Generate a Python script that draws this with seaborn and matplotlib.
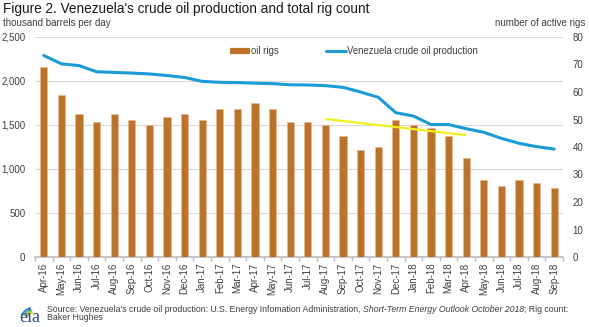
import numpy as np
import pandas as pd
import matplotlib
matplotlib.use("Agg")
import matplotlib.pyplot as plt
import seaborn as sns
from matplotlib.lines import Line2D
from matplotlib.patches import Arc
from matplotlib.ticker import FuncFormatter, FixedLocator, FixedFormatter

months = ["Apr-16", "May-16", "Jun-16", "Jul-16", "Aug-16", "Sep-16", "Oct-16", "Nov-16", "Dec-16",
          "Jan-17", "Feb-17", "Mar-17", "Apr-17", "May-17", "Jun-17", "Jul-17", "Aug-17", "Sep-17",
          "Oct-17", "Nov-17", "Dec-17", "Jan-18", "Feb-18", "Mar-18", "Apr-18", "May-18", "Jun-18",
          "Jul-18", "Aug-18", "Sep-18"]
oil_rigs = [69, 59, 52, 49, 52, 50, 48, 51, 52,
            50, 54, 54, 56, 54, 49, 49, 48, 44, 39, 40, 50,
            48, 47, 44, 36, 28, 26, 28, 27, 25]
production = [2290, 2195, 2175, 2105, 2098, 2090, 2080, 2062, 2040,
              1996, 1985, 1982, 1975, 1970, 1957, 1955, 1947, 1928, 1875, 1815, 1640,
              1602, 1505, 1505, 1458, 1417, 1348, 1292, 1254, 1227]
trend_months = ["Aug-17", "Apr-18"]
trend_rigs = [50.2, 44.3]

left_ticks = [0, 500, 1000, 1500, 2000, 2500]
right_ticks = [0, 10, 20, 30, 40, 50, 60, 70, 80]

BAR = "#BD722B"
LINE = "#1B9BD7"
YEL = "#F4F01E"
TXT = "#404040"
FONT = "Liberation Sans"

sns.set_theme(style="white")
plt.rcParams["font.family"] = [FONT, "DejaVu Sans"]

df = pd.DataFrame({"month": months, "rigs": oil_rigs, "prod": production})
df["pos"] = np.arange(len(df))
tpos = [months.index(m) for m in trend_months]

W, H = 589, 327
fig = plt.figure(figsize=(W / 100, H / 100), dpi=100)
ax = fig.add_axes([35 / W, 1 - 257 / H, 528 / W, 220 / H])
ax2 = ax.twinx()
ax3 = ax.twinx()
ax.set_zorder(1); ax2.set_zorder(2); ax3.set_zorder(3)

# bars (right axis)
sns.barplot(data=df, x="pos", y="rigs", ax=ax2, color=BAR, width=0.42, saturation=1,
            edgecolor="#E8B98A", linewidth=0.4)
# trend line (right axis)
ax2.plot(tpos, trend_rigs, color=YEL, lw=1.6, solid_capstyle="butt")
# production line (left scale)
sns.lineplot(data=df, x="pos", y="prod", ax=ax3, color=LINE, lw=2.2)

n = len(months)
for a in (ax, ax2, ax3):
    a.set_xlabel(""); a.set_ylabel("")
    for s in a.spines.values():
        s.set_visible(False)
ax.set_ylim(0, 2500)
ax3.set_ylim(0, 2500)
ax2.set_ylim(0, 80)

ax.set_yticks(left_ticks)
ax.yaxis.set_major_formatter(FuncFormatter(lambda v, p: f"{int(v):,}"))
ax.grid(axis="y", color="#D9D9D9", lw=0.8)
ax.grid(axis="x", visible=False)
ax.tick_params(axis="y", length=0, labelsize=7, labelcolor=TXT, pad=7)

ax2.set_yticks(right_ticks)
ax2.tick_params(axis="y", length=0, labelsize=7, labelcolor=TXT, pad=7)
ax2.grid(False)
ax3.set_yticks([])
ax3.grid(False)
ax2.tick_params(axis="x", labelbottom=False, bottom=False)
ax3.tick_params(axis="x", labelbottom=False, bottom=False)

# x axis (shared by the twins; set last)
ax.spines["bottom"].set_visible(True)
ax.spines["bottom"].set_color("#BFBFBF")
ax.xaxis.set_major_locator(FixedLocator(np.arange(n)))
ax.xaxis.set_major_formatter(FixedFormatter(months))
ax.xaxis.set_minor_locator(FixedLocator(np.arange(n + 1) - 0.5))
ax.tick_params(axis="x", which="major", length=0, pad=4, labelsize=7, labelcolor=TXT,
               labelrotation=90, labelbottom=True)
ax.tick_params(axis="x", which="minor", length=3, color="#BFBFBF", bottom=True)
ax.set_xlim(-0.5, n - 0.5)

# legend
handles = [Line2D([], [], color=BAR, lw=4.5, solid_capstyle="butt"),
           Line2D([], [], color=LINE, lw=2.2)]
ax3.legend(handles, ["oil rigs", "Venezuela crude oil production"], loc="center",
           bbox_to_anchor=(0.604, 0.935), ncol=2, frameon=False, fontsize=6.9,
           handlelength=2.1, handletextpad=0.15, columnspacing=4.9, labelcolor=TXT)

# titles
fig.text(3 / W, 1 - 9 / H, "Figure 2. Venezuela's crude oil production and total rig count",
         fontsize=9.8, color="#1a1a1a", va="center", ha="left")
fig.text(3 / W, 1 - 23 / H, "thousand barrels per day", fontsize=7, color=TXT, va="center", ha="left")
fig.text(585 / W, 1 - 23 / H, "number of active rigs", fontsize=7, color=TXT, va="center", ha="right")

# source
renderer = fig.canvas.get_renderer()
parts = [("Source: Venezuela's crude oil production: U.S. Energy Infomation Administration, ", "normal"),
         ("Short-Term Energy Outlook October 2018", "italic"),
         ("; Rig count:", "normal")]
x = 47
for txt, style in parts:
    t = fig.text(x / W, 1 - 309 / H, txt, fontsize=6.35, style=style, color=TXT, va="center", ha="left")
    bb = t.get_window_extent(renderer=renderer)
    x += bb.width
fig.text(47 / W, 1 - 318 / H, "Baker Hughes", fontsize=6.35, color=TXT, va="center", ha="left")

# eia logo
lax = fig.add_axes([14 / W, 1 - 325 / H, 32 / W, 24 / H])
lax.set_xlim(0, 32); lax.set_ylim(0, 24); lax.axis("off")
lax.text(16, 8, "eia", fontsize=13, family="Liberation Serif", color="#2B4F7E", ha="center", va="center")
for r, c in [(15, "#2E7FC1"), (13, "#53B0E0"), (11, "#8DC63F"), (9, "#F2C200")]:
    lax.add_patch(Arc((22, 6), 2 * r, 2 * r * 0.8, theta1=115, theta2=165, color=c, lw=1.2))

fig.savefig("out.png", dpi=100)
